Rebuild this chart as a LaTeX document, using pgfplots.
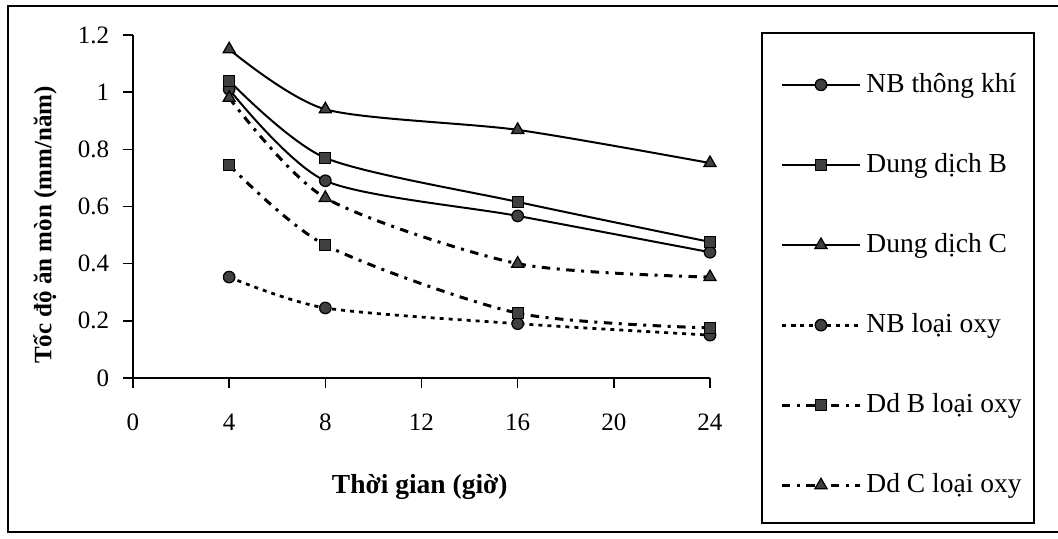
\documentclass[border=0pt]{standalone}
\usepackage{pgfplots}
\pgfplotsset{compat=1.18}
\usepackage{fontspec}
\setmainfont{Liberation Serif}

\begin{document}
\begin{tikzpicture}
\useasboundingbox (0,0) rectangle (423.2pt,215.6pt);
\clip (0,0) rectangle (423.2pt,215.6pt);
% outer frame (runs past the right edge)
\draw[line width=0.6pt] (430pt,213.2pt) -- (3.2pt,213.2pt) -- (3.2pt,2.8pt) -- (430pt,2.8pt);
% legend box
\draw[line width=0.6pt] (304.8pt,6.4pt) rectangle (413.6pt,202.4pt);
\begin{axis}[
  scale only axis,
  width=230.8pt, height=137.2pt,
  at={(53.2pt,64.4pt)}, anchor=origin,
  xmin=0, xmax=24, ymin=0, ymax=1.2,
  axis lines*=left,
  axis line style={-, line width=0.6pt},
  tick align=outside,
  major tick length=4pt,
  tick style={black, line width=0.6pt},
  xtick={0,4,8,12,16,20,24},
  ytick={0,0.2,0.4,0.6,0.8,1,1.2},
  /pgf/number format/assume math mode=true,
  tick label style={font=\fontsize{10}{12}\selectfont},
  xticklabel style={yshift=-7pt},
  yticklabel style={xshift=-2pt},
  xlabel={Thời gian (giờ)},
  xlabel style={at={(axis description cs:0.497,-0.318)}, anchor=center,
    font=\bfseries\fontsize{11}{13}\selectfont},
  ylabel={Tốc độ ăn mòn (mm/năm)},
  ylabel style={at={(axis description cs:-0.1525,0.446)}, anchor=center,
    font=\bfseries\fontsize{10}{12}\selectfont},
  legend style={at={(axis description cs:1.1213,0.904)}, anchor=north west,
    draw=none, fill=none, inner sep=0pt, row sep=18.9pt,
    font=\fontsize{11}{13}\selectfont,
    /tikz/every even column/.append style={column sep=4pt}},
  legend cell align=left,
  legend image code/.code={
    \draw[mark repeat=2,mark phase=2] plot coordinates {(0pt,0pt) (15.6pt,0pt) (31.2pt,0pt)};},
  every axis plot/.append style={black, line width=0.8pt, smooth, tension=0.45,
    mark options={solid, fill=black!75, draw=black, line width=0.5pt}},
]
% NB thong khi
\addplot[mark=*, mark size=2.3pt] coordinates {(4,1.01) (8,0.69) (16,0.567) (24,0.44)};
% Dung dich B
\addplot[mark=square*, mark size=2.2pt] coordinates {(4,1.04) (8,0.77) (16,0.616) (24,0.476)};
% Dung dich C
\addplot[mark=triangle*, mark size=2.8pt] coordinates {(4,1.15) (8,0.94) (16,0.868) (24,0.752)};
% NB loai oxy
\addplot[line width=1.1pt, dash pattern=on 1.6pt off 2pt, mark=*, mark size=2.3pt] coordinates {(4,0.353) (8,0.245) (16,0.19) (24,0.15)};
% Dd B loai oxy
\addplot[line width=1.2pt, dash pattern=on 3.4pt off 2.6pt on 1.2pt off 2.6pt, mark=square*, mark size=2.2pt] coordinates {(4,0.745) (8,0.465) (16,0.227) (24,0.175)};
% Dd C loai oxy
\addplot[line width=1.2pt, dash pattern=on 3.4pt off 2.6pt on 1.2pt off 2.6pt, mark=triangle*, mark size=2.8pt] coordinates {(4,0.98) (8,0.63) (16,0.40) (24,0.353)};
\legend{NB thông khí, Dung dịch B, Dung dịch C, NB loại oxy, Dd B loại oxy, Dd C loại oxy}
\end{axis}
\end{tikzpicture}
\end{document}
